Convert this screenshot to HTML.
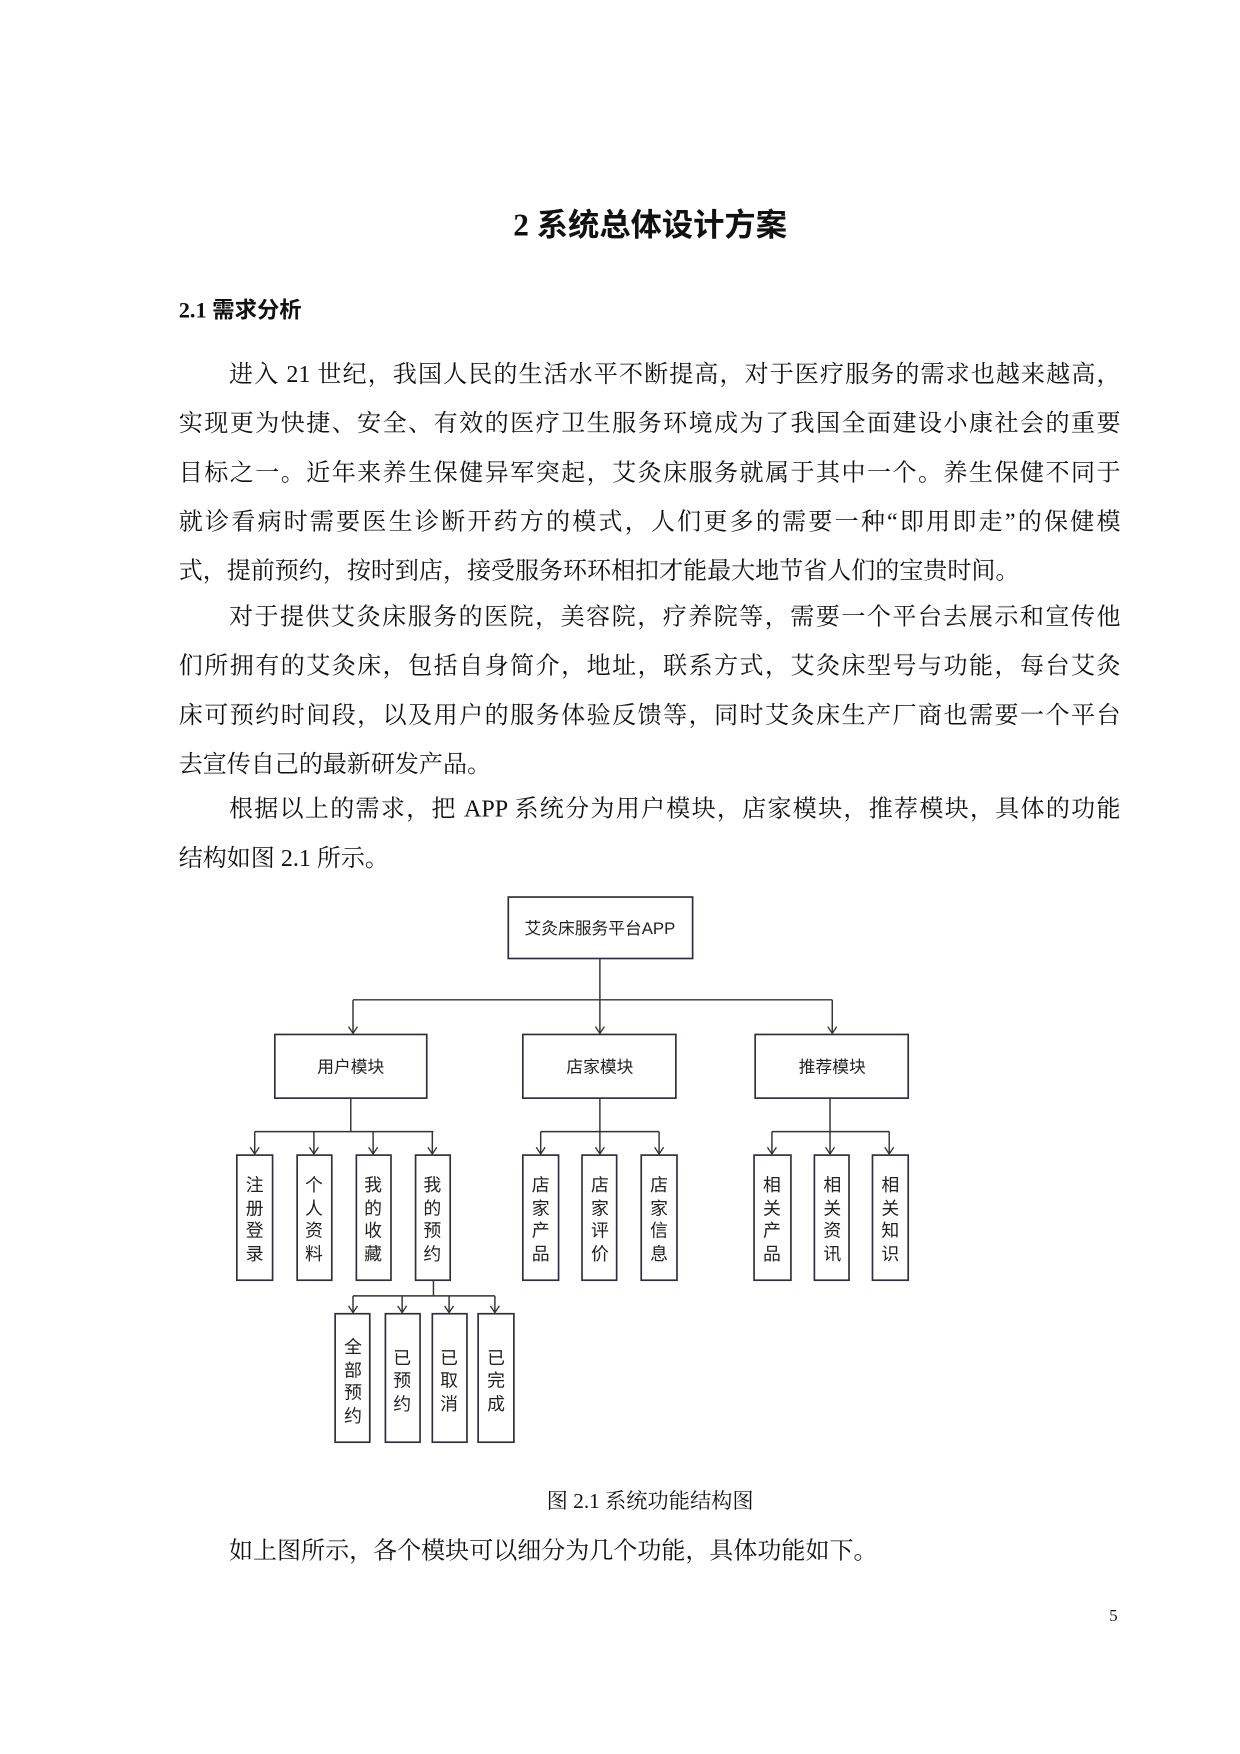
<!DOCTYPE html>
<html><head><meta charset="utf-8"><style>
html,body{margin:0;padding:0;background:#fff;}
#wrap{width:1240px;height:1754px;overflow:hidden;position:relative;}
#pg{position:absolute;left:0;top:0;width:1110px;height:1570px;transform:scale(1.11712);transform-origin:0 0;}
.t{position:absolute;font-family:"Liberation Serif","Noto Serif CJK SC",serif;font-size:21.5px;line-height:24px;color:#111;white-space:nowrap;}
.j{text-align:justify;text-align-last:justify;white-space:normal;}
</style></head><body><div id="wrap"><div id="pg">
<div class="t" style="left:0;width:1164px;top:186px;text-align:center;font-family:'Liberation Serif','Noto Sans CJK SC',sans-serif;font-weight:bold;font-size:28px;line-height:34px;">2 系统总体设计方案</div>
<div class="t" style="left:160px;top:266px;font-family:'Liberation Serif','Noto Sans CJK SC',sans-serif;font-weight:bold;font-size:20px;">2.1 需求分析</div>
<div class="t j" style="left:205px;width:798px;top:323px;">进入 21 世纪，我国人民的生活水平不断提高，对于医疗服务的需求也越来越高，</div>
<div class="t j" style="left:160px;width:843px;top:367px;">实现更为快捷、安全、有效的医疗卫生服务环境成为了我国全面建设小康社会的重要</div>
<div class="t j" style="left:160px;width:843px;top:411px;">目标之一。近年来养生保健异军突起，艾灸床服务就属于其中一个。养生保健不同于</div>
<div class="t j" style="left:160px;width:843px;top:455px;">就诊看病时需要医生诊断开药方的模式，人们更多的需要一种“即用即走”的保健模</div>
<div class="t" style="left:160px;top:499px;">式，提前预约，按时到店，接受服务环环相扣才能最大地节省人们的宝贵时间。</div>
<div class="t j" style="left:205px;width:798px;top:540px;">对于提供艾灸床服务的医院，美容院，疗养院等，需要一个平台去展示和宣传他</div>
<div class="t j" style="left:160px;width:843px;top:584px;">们所拥有的艾灸床，包括自身简介，地址，联系方式，艾灸床型号与功能，每台艾灸</div>
<div class="t j" style="left:160px;width:843px;top:628px;">床可预约时间段，以及用户的服务体验反馈等，同时艾灸床生产厂商也需要一个平台</div>
<div class="t" style="left:160px;top:672px;">去宣传自己的最新研发产品。</div>
<div class="t j" style="left:205px;width:798px;top:712px;">根据以上的需求，把 APP 系统分为用户模块，店家模块，推荐模块，具体的功能</div>
<div class="t" style="left:160px;top:756px;">结构如图 2.1 所示。</div>
<div class="t" style="left:0;width:1164px;text-align:center;top:1333px;font-size:19px;">图 2.1 系统功能结构图</div>
<div class="t" style="left:205px;top:1376px;">如上图所示，各个模块可以细分为几个功能，具体功能如下。</div>
<div class="t" style="left:993px;top:1435px;font-size:15px;">5</div>
<svg style="position:absolute;left:0;top:0" width="1110" height="1570" viewBox="0 0 1110 1570" font-family="Liberation Sans,Noto Sans CJK SC,sans-serif" fill="none" stroke="#333" stroke-width="1.3">
<defs><marker id="a" markerWidth="10" markerHeight="10" refX="9" refY="5" orient="auto" markerUnits="userSpaceOnUse"><path d="M3,1 L9,5 L3,9" stroke="#333" fill="none" stroke-width="1.2"/></marker></defs>
<g stroke="#2e2e40" stroke-width="1.5">
<rect x="455" y="803" width="165" height="55"/>
<rect x="246" y="926" width="136" height="57"/><rect x="468" y="926" width="137" height="57"/><rect x="676" y="926" width="137" height="57"/>
<rect x="212" y="1034" width="32" height="112"/><rect x="266" y="1034" width="31" height="112"/><rect x="319" y="1034" width="31" height="112"/><rect x="372" y="1034" width="31" height="112"/>
<rect x="468" y="1034" width="32" height="112"/><rect x="521" y="1034" width="31" height="112"/><rect x="574" y="1034" width="32" height="112"/>
<rect x="675" y="1034" width="33" height="112"/><rect x="729" y="1034" width="31" height="112"/><rect x="781" y="1034" width="32" height="112"/>
<rect x="300" y="1176" width="31" height="115"/><rect x="345" y="1176" width="31" height="115"/><rect x="387" y="1176" width="31" height="115"/><rect x="428" y="1176" width="32" height="115"/>
</g>
<path d="M537,858V895M316,895H745"/>
<g marker-end="url(#a)">
<path d="M316,895V925"/><path d="M537,895V925"/><path d="M745,895V925"/>
</g>
<path d="M314,983V1013M228,1013H388M537,983V1013M484,1013H590M743,983V1013M691,1013H796"/>
<g marker-end="url(#a)">
<path d="M228,1013V1033"/><path d="M281,1013V1033"/><path d="M334,1013V1033"/><path d="M387,1013V1033"/>
<path d="M484,1013V1033"/><path d="M537,1013V1033"/><path d="M590,1013V1033"/>
<path d="M691,1013V1033"/><path d="M743,1013V1033"/><path d="M796,1013V1033"/>
</g>
<path d="M388,1146V1160M316,1160H443"/>
<g marker-end="url(#a)">
<path d="M316,1160V1175"/><path d="M360,1160V1175"/><path d="M402,1160V1175"/><path d="M443,1160V1175"/>
</g>
<g fill="#222" stroke="none" font-size="15" text-anchor="middle">
<text x="537" y="836">艾灸床服务平台APP</text>
<text x="314" y="960">用户模块</text><text x="537" y="960">店家模块</text><text x="745" y="960">推荐模块</text>
</g>
<g fill="#222" stroke="none" font-size="16" text-anchor="middle">
<text x="228" y="1066">注</text><text x="228" y="1087">册</text><text x="228" y="1107">登</text><text x="228" y="1128">录</text>
<text x="281" y="1066">个</text><text x="281" y="1087">人</text><text x="281" y="1107">资</text><text x="281" y="1128">料</text>
<text x="334" y="1066">我</text><text x="334" y="1087">的</text><text x="334" y="1107">收</text><text x="334" y="1128">藏</text>
<text x="387" y="1066">我</text><text x="387" y="1087">的</text><text x="387" y="1107">预</text><text x="387" y="1128">约</text>
<text x="484" y="1066">店</text><text x="484" y="1087">家</text><text x="484" y="1107">产</text><text x="484" y="1128">品</text>
<text x="537" y="1066">店</text><text x="537" y="1087">家</text><text x="537" y="1107">评</text><text x="537" y="1128">价</text>
<text x="590" y="1066">店</text><text x="590" y="1087">家</text><text x="590" y="1107">信</text><text x="590" y="1128">息</text>
<text x="691" y="1066">相</text><text x="691" y="1087">关</text><text x="691" y="1107">产</text><text x="691" y="1128">品</text>
<text x="745" y="1066">相</text><text x="745" y="1087">关</text><text x="745" y="1107">资</text><text x="745" y="1128">讯</text>
<text x="797" y="1066">相</text><text x="797" y="1087">关</text><text x="797" y="1107">知</text><text x="797" y="1128">识</text>
<text x="316" y="1211">全</text><text x="316" y="1232">部</text><text x="316" y="1252">预</text><text x="316" y="1273">约</text>
<text x="360" y="1221">已</text><text x="360" y="1241">预</text><text x="360" y="1262">约</text>
<text x="402" y="1221">已</text><text x="402" y="1241">取</text><text x="402" y="1262">消</text>
<text x="444" y="1221">已</text><text x="444" y="1241">完</text><text x="444" y="1262">成</text>
</g>
</svg>
</div></div></body></html>
